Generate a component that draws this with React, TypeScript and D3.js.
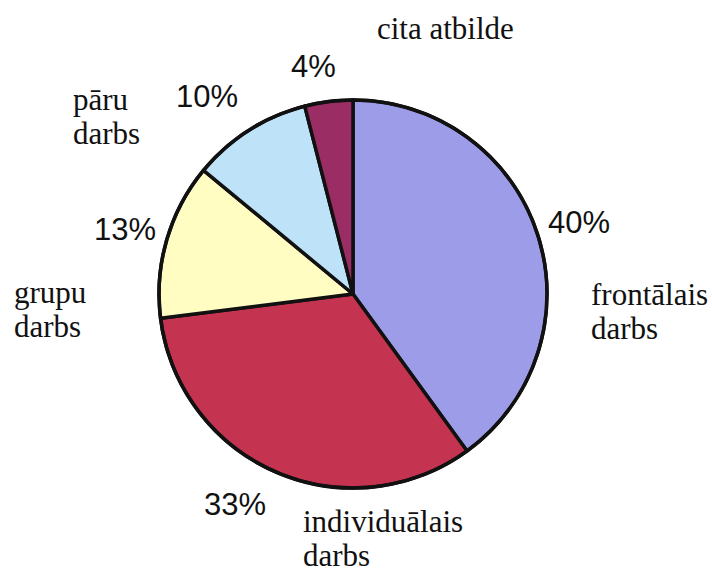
import React from "react";
import * as d3 from "d3";

const categories = ["frontālais darbs", "individuālais darbs", "grupu darbs", "pāru darbs", "cita atbilde"];
const values = [40, 33, 13, 10, 4];
const colors = ["#9C9CE8", "#C4334F", "#FFFDC2", "#BEE2F7", "#9A2D63"];
const pctLabels = ["40%", "33%", "13%", "10%", "4%"];

// label placements (text anchors)
const pctPos: [number, number][] = [[548, 233], [204, 515], [94, 240], [176, 107], [291, 77]];
const catLines: string[][] = [["frontālais", "darbs"], ["individuālais", "darbs"], ["grupu", "darbs"], ["pāru", "darbs"], ["cita atbilde"]];
const catPos: [number, number][] = [[591, 305], [303, 532], [14, 303], [73, 110], [377, 39]];

const W = 712, H = 571;
const cx = 353, cy = 294, R = 194;

export default function App() {
  const pie = d3.pie<number>().sort(null).value((d) => d).startAngle(0).endAngle(2 * Math.PI);
  const arcs = pie(values);
  const arc = d3.arc<d3.PieArcDatum<number>>().innerRadius(0).outerRadius(R);
  return (
    <svg width={W} height={H} style={{ position: "absolute", left: 0, top: 0, background: "#fff" }}>
      <rect width={W} height={H} fill="#fff" />
      <g transform={`translate(${cx},${cy})`}>
        {arcs.map((a, i) => (
          <path key={i} d={arc(a) || ""} fill={colors[i]} stroke="#111" strokeWidth={3.5} strokeLinejoin="round" />
        ))}
        <circle r={R} fill="none" stroke="#111" strokeWidth={3.5} />
      </g>
      {pctLabels.map((t, i) => (
        <text key={"p" + i} x={pctPos[i][0]} y={pctPos[i][1]} fontFamily="Liberation Sans, Arial, sans-serif" fontSize={31} fill="#111">
          {t}
        </text>
      ))}
      {catLines.map((lines, i) => (
        <text key={"c" + i} x={catPos[i][0]} y={catPos[i][1]} fontFamily="Liberation Serif, Times New Roman, serif" fontSize={31} fill="#111">
          {lines.map((l, j) => (
            <tspan key={j} x={catPos[i][0]} dy={j === 0 ? 0 : 34}>
              {l}
            </tspan>
          ))}
        </text>
      ))}
    </svg>
  );
}
